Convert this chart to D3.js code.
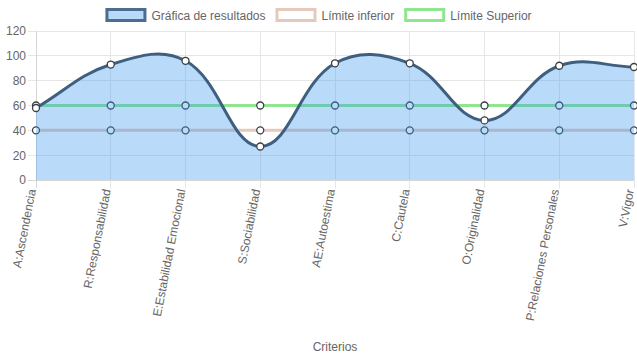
<!DOCTYPE html>
<html>
<head>
<meta charset="utf-8">
<script src="https://cdn.jsdelivr.net/npm/d3@7"></script>
<style>
  body { margin: 0; background: #fff; }
  svg { display: block; font-family: "Liberation Sans", Arial, sans-serif; }
  .tick text { fill: #666; font-size: 12px; }
</style>
</head>
<body>
<div id="chart"></div>
<script>
// Data
var criterios = ["A:Ascendencia", "R:Responsabilidad", "E:Estabilidad Emocional", "S:Sociabilidad",
    "AE:Autoestima", "C:Cautela", "O:Originalidad", "P:Relaciones Personales", "V:Vigor"];
var resultados = [58, 93, 96, 27, 94, 94, 48, 92, 91];
var limiteInferior = [40, 40, 40, 40, 40, 40, 40, 40, 40];
var limiteSuperior = [60, 60, 60, 60, 60, 60, 60, 60, 60];
var yTicks = [0, 20, 40, 60, 80, 100, 120];

var svgWidth = 637, svgHeight = 359;
var margin = { top: 31, right: 3, bottom: 179, left: 36 },
    width = svgWidth - margin.left - margin.right,
    height = svgHeight - margin.top - margin.bottom;

var svg = d3.select("#chart").append("svg")
    .attr("width", svgWidth)
    .attr("height", svgHeight);

var g = svg.append("g")
    .attr("transform", "translate(" + margin.left + "," + margin.top + ")");

var x = d3.scalePoint().domain(criterios).range([0, width]);
var y = d3.scaleLinear().domain([0, 120]).range([height, 0]);

// grid
g.append("g")
    .selectAll("line")
    .data(yTicks)
    .join("line")
        .attr("x1", -8).attr("x2", width)
        .attr("y1", d => y(d)).attr("y2", d => y(d))
        .attr("stroke", d => d === 0 ? "#d6d6d6" : "#e6e6e6")
        .attr("stroke-width", 1)
        .attr("shape-rendering", "crispEdges");

g.append("g")
    .selectAll("line")
    .data(criterios)
    .join("line")
        .attr("x1", d => x(d)).attr("x2", d => x(d))
        .attr("y1", 0).attr("y2", height + 8)
        .attr("stroke", (d, i) => i === 0 ? "#d6d6d6" : "#e6e6e6")
        .attr("stroke-width", 1)
        .attr("shape-rendering", "crispEdges");

// y axis labels
g.append("g")
    .call(d3.axisLeft(y).tickValues(yTicks).tickSize(0).tickPadding(10))
    .call(a => a.select(".domain").remove());

// x axis labels (rotated)
g.append("g")
    .selectAll("text")
    .data(criterios)
    .join("text")
        .attr("transform", d => "translate(" + x(d) + "," + (height + 10) + ") rotate(-79)")
        .attr("text-anchor", "end")
        .attr("fill", "#666")
        .style("font-size", "12px")
        .text(d => d);

svg.append("text")
    .attr("x", margin.left + width / 2)
    .attr("y", 351)
    .attr("text-anchor", "middle")
    .attr("fill", "#666")
    .style("font-size", "12px")
    .text("Criterios");

// Chart.js-like spline (tension 0.4)
function splinePath(vals, t) {
    var pts = vals.map((v, i) => [x(criterios[i]), y(v)]);
    var ctrl = pts.map(function(p, i) {
        var p0 = pts[i - 1] || p, p2 = pts[i + 1] || p;
        var d01 = Math.hypot(p[0] - p0[0], p[1] - p0[1]);
        var d12 = Math.hypot(p2[0] - p[0], p2[1] - p[1]);
        var s01 = d01 / (d01 + d12) || 0, s12 = d12 / (d01 + d12) || 0;
        var fa = t * s01, fb = t * s12;
        var cap = q => [Math.max(0, Math.min(width, q[0])), Math.max(0, Math.min(height, q[1]))];
        return {
            prev: cap([p[0] - fa * (p2[0] - p0[0]), p[1] - fa * (p2[1] - p0[1])]),
            next: cap([p[0] + fb * (p2[0] - p0[0]), p[1] + fb * (p2[1] - p0[1])])
        };
    });
    var path = d3.path();
    path.moveTo(pts[0][0], pts[0][1]);
    for (var i = 1; i < pts.length; i++) {
        path.bezierCurveTo(ctrl[i - 1].next[0], ctrl[i - 1].next[1], ctrl[i].prev[0], ctrl[i].prev[1], pts[i][0], pts[i][1]);
    }
    return path.toString();
}

var pointStroke = "#3a3f44";

function drawPoints(vals) {
    g.append("g")
        .selectAll("circle")
        .data(vals)
        .join("circle")
            .attr("cx", (d, i) => x(criterios[i]))
            .attr("cy", d => y(d))
            .attr("r", 3.5)
            .attr("fill", "#fff")
            .attr("stroke", pointStroke)
            .attr("stroke-width", 1.3);
}

// limit lines (drawn below results)
var straight = d3.line().x((d, i) => x(criterios[i])).y(d => y(d));

g.append("path").attr("d", straight(limiteSuperior))
    .attr("fill", "none").attr("stroke", "#8fe68f").attr("stroke-width", 3);
drawPoints(limiteSuperior);

g.append("path").attr("d", straight(limiteInferior))
    .attr("fill", "none").attr("stroke", "#e6c9bd").attr("stroke-width", 3);
drawPoints(limiteInferior);

// results
var linePath = splinePath(resultados, 0.4);
g.append("path")
    .attr("d", linePath + "L" + width + "," + height + "L0," + height + "Z")
    .attr("fill", "rgba(54,150,235,0.35)");
g.append("path")
    .attr("d", linePath)
    .attr("fill", "none")
    .attr("stroke", "#3e5f80")
    .attr("stroke-width", 3);
drawPoints(resultados);

// legend
var legendItems = [
    { label: "Gráfica de resultados", fill: "rgb(184,218,248)", stroke: "#4a6d90" },
    { label: "Límite inferior", fill: "#fff", stroke: "#e6c9bd" },
    { label: "Límite Superior", fill: "#fff", stroke: "#8fe68f" }
];
var legend = svg.append("g");
var items = legend.selectAll("g").data(legendItems).join("g");
items.append("rect")
    .attr("x", 1.5).attr("y", 9.5).attr("width", 38).attr("height", 11)
    .attr("fill", d => d.fill).attr("stroke", d => d.stroke).attr("stroke-width", 3);
items.append("text")
    .attr("x", 46).attr("y", 19.5)
    .attr("fill", "#666").style("font-size", "12px")
    .text(d => d.label);
var widths = [];
items.each(function() { widths.push(46 + d3.select(this).select("text").node().getComputedTextLength()); });
var total = d3.sum(widths) + 10 * (widths.length - 1);
var cx = (svgWidth - total) / 2;
items.attr("transform", function(d, i) {
    var tx = cx; cx += widths[i] + 10;
    return "translate(" + tx + ",0)";
});
</script>
</body>
</html>
